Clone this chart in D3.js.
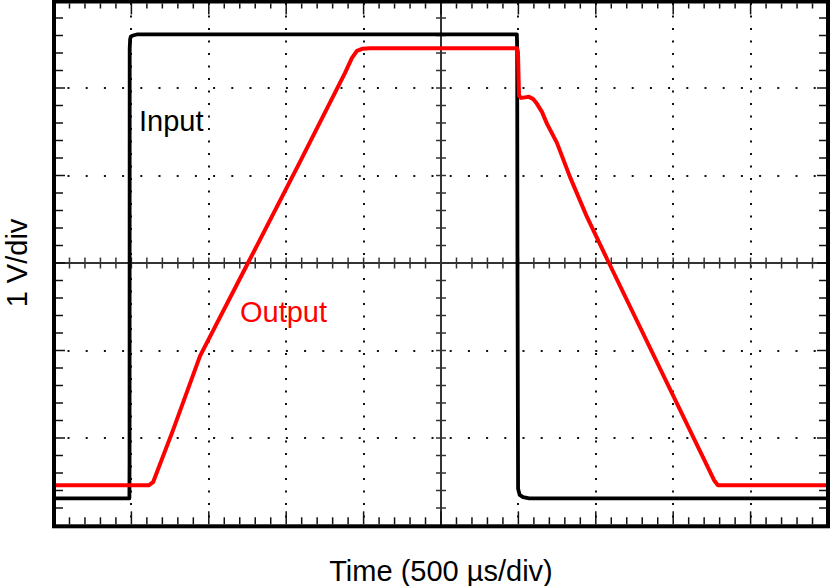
<!DOCTYPE html>
<html>
<head>
<meta charset="utf-8">
<script src="https://cdn.jsdelivr.net/npm/d3@7"></script>
<style>
  html, body { margin: 0; padding: 0; background: #fff; }
  svg { display: block; }
  text { font-family: "Liberation Sans", Arial, Helvetica, sans-serif; }
</style>
</head>
<body>
<svg id="chart" width="830" height="586"></svg>
<script>
// ---- Data (time in µs, voltage in V) ----
const timeDomain = [0, 5000];
const voltDomain = [-3, 3];
const timePerDiv = 500;
const voltPerDiv = 1;

const inputTime = [0, 487, 488, 489, 492, 497, 510, 540, 2990, 2992, 2994, 2998, 3008, 3030, 3070, 5000];
const inputVolt = [-2.689, -2.689, -2.3, 2.45, 2.56, 2.59, 2.6, 2.614, 2.614, 2.45, 0.0, -2.58, -2.65, -2.675, -2.689, -2.689];

const outputTime = [0, 614, 640, 769, 943, 1253, 1589, 1880, 1925, 1957, 1990, 2041, 2991, 2997, 3004, 3017, 3043, 3068, 3094, 3120, 3152, 3185, 3249, 3333, 3443, 3585, 4264, 4289, 5000];
const outputVolt = [-2.539, -2.539, -2.505, -1.910, -1.064, 0.0, 1.155, 2.173, 2.345, 2.425, 2.448, 2.454, 2.454, 2.414, 1.910, 1.887, 1.893, 1.899, 1.876, 1.819, 1.727, 1.590, 1.373, 0.984, 0.526, 0.0, -2.482, -2.539, -2.539];

const seriesNames = ["Input", "Output"];
const xTitle = "Time (500 µs/div)";
const yTitle = "1 V/div";

// ---- Layout ----
const svg = d3.select("#chart");
const x = d3.scaleLinear().domain(timeDomain).range([54, 828]);
const y = d3.scaleLinear().domain(voltDomain).range([525.5, 0.5]);

const minorT = d3.range(timeDomain[0] + timePerDiv / 5, timeDomain[1], timePerDiv / 5);
const minorV = d3.range(voltDomain[0] + voltPerDiv / 5, voltDomain[1] - 1e-9, voltPerDiv / 5).map(v => Math.round(v * 10) / 10);
const majorT = d3.range(timeDomain[0] + timePerDiv, timeDomain[1], timePerDiv);
const majorV = d3.range(voltDomain[0] + voltPerDiv, voltDomain[1], voltPerDiv);
const isMajorT = t => Math.abs(t / timePerDiv - Math.round(t / timePerDiv)) < 1e-6;
const isMajorV = v => Math.abs(v / voltPerDiv - Math.round(v / voltPerDiv)) < 1e-6;

const g = svg.append("g");

// Dotted grid (excluding center lines)
g.selectAll("line.vgrid").data(majorT.filter(t => t !== 2500)).enter().append("line")
  .attr("x1", d => Math.round(x(d))).attr("x2", d => Math.round(x(d)))
  .attr("y1", y(voltDomain[1])).attr("y2", y(voltDomain[0]))
  .attr("stroke", "#111").attr("stroke-width", 2)
  .attr("stroke-dasharray", "2,10.5").attr("stroke-dashoffset", 10);

g.selectAll("line.hgrid").data(majorV.filter(v => v !== 0)).enter().append("line")
  .attr("y1", d => Math.round(y(d))).attr("y2", d => Math.round(y(d)))
  .attr("x1", x(timeDomain[0])).attr("x2", x(timeDomain[1]))
  .attr("stroke", "#111").attr("stroke-width", 2)
  .attr("stroke-dasharray", "2,16.2").attr("stroke-dashoffset", 4.7);

// Center axes
const cx = x(2500), cy = y(0);
g.append("line").attr("x1", cx).attr("x2", cx).attr("y1", y(3)).attr("y2", y(-3))
  .attr("stroke", "#333").attr("stroke-width", 2);
g.append("line").attr("y1", cy).attr("y2", cy).attr("x1", x(0)).attr("x2", x(5000))
  .attr("stroke", "#333").attr("stroke-width", 2);
g.selectAll("line.ctx").data(minorT).enter().append("line")
  .attr("x1", d => x(d)).attr("x2", d => x(d)).attr("y1", cy - 5.5).attr("y2", cy + 5.5)
  .attr("stroke", "#333").attr("stroke-width", 1.5);
g.selectAll("line.cty").data(minorV).enter().append("line")
  .attr("y1", d => y(d)).attr("y2", d => y(d)).attr("x1", cx - 5).attr("x2", cx + 5)
  .attr("stroke", "#333").attr("stroke-width", 1.5);

// Edge ticks
const tickG = g.append("g").attr("stroke", "#111").attr("stroke-width", 1.5);
tickG.selectAll("line.top").data(minorT).enter().append("line")
  .attr("x1", d => x(d)).attr("x2", d => x(d))
  .attr("y1", 3.5).attr("y2", d => 3.5 + (isMajorT(d) ? 11 : 5));
tickG.selectAll("line.bot").data(minorT).enter().append("line")
  .attr("x1", d => x(d)).attr("x2", d => x(d))
  .attr("y1", 524.3).attr("y2", d => 524.3 - (isMajorT(d) ? 13 : 7));
tickG.selectAll("line.left").data(minorV).enter().append("line")
  .attr("y1", d => y(d)).attr("y2", d => y(d))
  .attr("x1", 56).attr("x2", d => 56 + (isMajorV(d) ? 9 : 7));
tickG.selectAll("line.right").data(minorV).enter().append("line")
  .attr("y1", d => y(d)).attr("y2", d => y(d))
  .attr("x1", 826).attr("x2", d => 826 - (isMajorV(d) ? 9 : 7));

// Traces
const line = d3.line().x(d => x(d[0])).y(d => y(d[1])).curve(d3.curveLinear);
const inputData = inputTime.map((t, i) => [t, inputVolt[i]]);
const outputData = outputTime.map((t, i) => [t, outputVolt[i]]);

g.append("path").datum(inputData).attr("d", line)
  .attr("fill", "none").attr("stroke", "#000").attr("stroke-width", 3.8)
  .attr("stroke-linejoin", "round");
g.append("path").datum(outputData).attr("d", line)
  .attr("fill", "none").attr("stroke", "#ff0000").attr("stroke-width", 4)
  .attr("stroke-linejoin", "round");

// Frame
g.append("rect").attr("x", 54).attr("y", 1.5).attr("width", 774).attr("height", 524.8)
  .attr("fill", "none").attr("stroke", "#000").attr("stroke-width", 4);

// Labels
svg.append("text").attr("x", 139).attr("y", 131)
  .attr("font-size", 29).attr("fill", "#000").text(seriesNames[0]);
svg.append("text").attr("x", 240).attr("y", 322)
  .attr("font-size", 29).attr("fill", "#ff0000").text(seriesNames[1]);

svg.append("text").attr("x", 441).attr("y", 581)
  .attr("text-anchor", "middle").attr("font-size", 29).attr("fill", "#000").text(xTitle);
svg.append("text").attr("transform", "translate(26.5,263) rotate(-90)")
  .attr("text-anchor", "middle").attr("font-size", 29).attr("fill", "#000").text(yTitle);
</script>
</body>
</html>
